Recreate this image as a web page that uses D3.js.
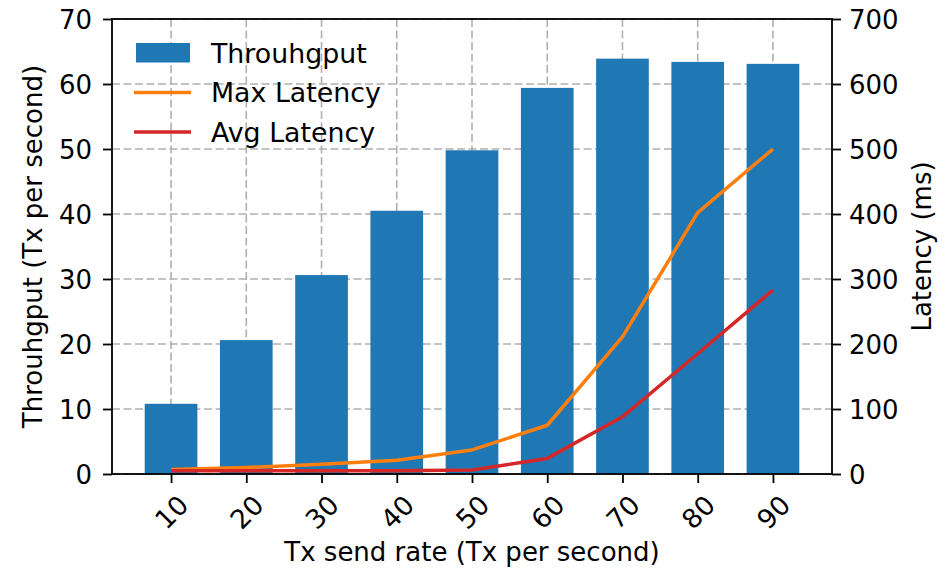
<!DOCTYPE html>
<html>
<head>
<meta charset="utf-8">
<script src="https://cdn.jsdelivr.net/npm/d3@7"></script>
<style>
  body { margin: 0; background: white; }
  text { font-family: "DejaVu Sans", sans-serif; fill: black; }
</style>
</head>
<body>
<div id="chart"></div>
<script>
var width = 948,
    height = 571;

// input data
var sendRates = [10, 20, 30, 40, 50, 60, 70, 80, 90];
var throughput = [10.8, 20.6, 30.6, 40.5, 49.8, 59.4, 63.9, 63.4, 63.1];
var maxLatency = [7, 10, 15, 21, 37, 75, 211, 402, 500];
var avgLatency = [5, 5, 5, 5, 6, 24, 88, 185, 283];
var leftTicks = [0, 10, 20, 30, 40, 50, 60, 70];
var rightTicks = [0, 100, 200, 300, 400, 500, 600, 700];
var seriesNames = ["Throuhgput", "Max Latency", "Avg Latency"];

var barWidth = 7;
var fontSize = 26;
var blue = "#1f77b4", orange = "#ff7f0e", red = "#d62728";

var plot = { left: 112, right: 832, top: 19, bottom: 474 };

var svg = d3.select("#chart").append("svg")
    .attr("width", width)
    .attr("height", height);

var x = d3.scaleLinear()
    .domain([2.15, 97.85])
    .range([plot.left, plot.right]);
var yLeft = d3.scaleLinear()
    .domain([0, 70])
    .range([plot.bottom, plot.top]);
var yRight = d3.scaleLinear()
    .domain([0, 700])
    .range([plot.bottom, plot.top]);

////////////////////////////// grid
var grid = svg.append("g")
    .attr("stroke", "#b0b0b0")
    .attr("stroke-width", 1.6)
    .attr("stroke-dasharray", "8,3.5");
grid.selectAll(".vgrid")
    .data(sendRates)
    .enter().append("line")
    .attr("x1", function (d) { return x(d); })
    .attr("x2", function (d) { return x(d); })
    .attr("y1", plot.top)
    .attr("y2", plot.bottom);
grid.selectAll(".hgrid")
    .data(leftTicks)
    .enter().append("line")
    .attr("x1", plot.left)
    .attr("x2", plot.right)
    .attr("y1", function (d) { return yLeft(d); })
    .attr("y2", function (d) { return yLeft(d); });

////////////////////////////// bars
svg.selectAll(".bar")
    .data(throughput)
    .enter().append("rect")
    .attr("class", "bar")
    .attr("x", function (d, i) { return x(sendRates[i] - barWidth / 2); })
    .attr("width", function () { return x(barWidth) - x(0); })
    .attr("y", function (d) { return yLeft(d); })
    .attr("height", function (d) { return yLeft(0) - yLeft(d); })
    .attr("fill", blue);

////////////////////////////// latency lines
var line = d3.line()
    .x(function (d, i) { return x(sendRates[i]); })
    .y(function (d) { return yRight(d); });

svg.append("path")
    .datum(maxLatency)
    .attr("d", line)
    .attr("fill", "none")
    .attr("stroke", orange)
    .attr("stroke-width", 3.5)
    .attr("stroke-linejoin", "round");
svg.append("path")
    .datum(avgLatency)
    .attr("d", line)
    .attr("fill", "none")
    .attr("stroke", red)
    .attr("stroke-width", 3.5)
    .attr("stroke-linejoin", "round");

////////////////////////////// axes
var xAxis = svg.append("g")
    .attr("transform", "translate(0," + plot.bottom + ")")
    .call(d3.axisBottom(x).tickValues(sendRates).tickSize(9).tickSizeOuter(0));
xAxis.selectAll("text")
    .attr("font-size", 26.5)
    .attr("font-family", "DejaVu Sans")
    .attr("text-anchor", "middle")
    .attr("dy", null)
    .attr("y", null)
    .attr("dominant-baseline", "central")
    .attr("transform", "translate(0,38) rotate(-45)");

var leftAxis = svg.append("g")
    .attr("transform", "translate(" + plot.left + ",0)")
    .call(d3.axisLeft(yLeft).tickValues(leftTicks).tickSize(9).tickPadding(11).tickSizeOuter(0));
leftAxis.selectAll("text")
    .attr("font-size", fontSize)
    .attr("font-family", "DejaVu Sans")
    .attr("dy", "0.36em");

var rightAxis = svg.append("g")
    .attr("transform", "translate(" + plot.right + ",0)")
    .call(d3.axisRight(yRight).tickValues(rightTicks).tickSize(9).tickPadding(8).tickSizeOuter(0));
rightAxis.selectAll("text")
    .attr("font-size", fontSize)
    .attr("font-family", "DejaVu Sans")
    .attr("dy", "0.36em");

svg.selectAll(".domain").remove();
svg.selectAll(".tick line")
    .attr("stroke", "black")
    .attr("stroke-width", 1.8);

// spines
svg.append("rect")
    .attr("x", plot.left)
    .attr("y", plot.top)
    .attr("width", plot.right - plot.left)
    .attr("height", plot.bottom - plot.top)
    .attr("fill", "none")
    .attr("stroke", "black")
    .attr("stroke-width", 1.8);

////////////////////////////// axis labels
svg.append("text")
    .attr("x", (plot.left + plot.right) / 2)
    .attr("y", 561)
    .attr("font-size", fontSize)
    .style("text-anchor", "middle")
    .text("Tx send rate (Tx per second)");
svg.append("text")
    .attr("transform", "translate(42," + (plot.top + plot.bottom) / 2 + ") rotate(-90)")
    .attr("font-size", fontSize)
    .style("text-anchor", "middle")
    .text("Throuhgput (Tx per second)");
svg.append("text")
    .attr("transform", "translate(931," + (plot.top + plot.bottom) / 2 + ") rotate(-90)")
    .attr("font-size", fontSize)
    .style("text-anchor", "middle")
    .text("Latency (ms)");

////////////////////////////// legend
var legend = svg.append("g")
    .attr("transform", "translate(136,53)");
var rowGap = 39.5;
legend.append("rect")
    .attr("x", 0)
    .attr("y", -10)
    .attr("width", 54)
    .attr("height", 19.5)
    .attr("fill", blue);
legend.selectAll(".legline")
    .data([orange, red])
    .enter().append("line")
    .attr("x1", -2)
    .attr("x2", 55)
    .attr("y1", function (d, i) { return (i + 1) * rowGap; })
    .attr("y2", function (d, i) { return (i + 1) * rowGap; })
    .attr("stroke", function (d) { return d; })
    .attr("stroke-width", 3.5);
legend.selectAll(".legtext")
    .data(seriesNames)
    .enter().append("text")
    .attr("x", 75)
    .attr("y", function (d, i) { return i * rowGap + 9.5; })
    .attr("font-size", 26.8)
    .text(function (d) { return d; });
</script>
</body>
</html>
